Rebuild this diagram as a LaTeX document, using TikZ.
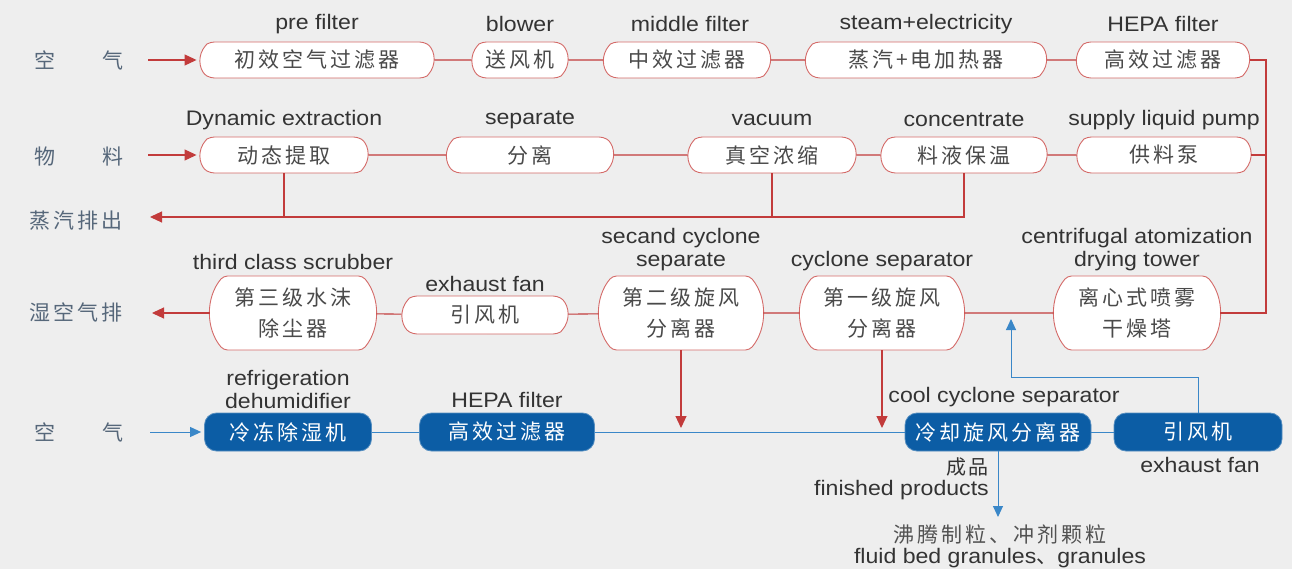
\documentclass[tikz,border=0pt]{standalone}
\usepackage{fontspec}
\setmainfont{Liberation Sans}[FakeStretch=1.1]
\newfontfamily\cjk{Noto Sans CJK SC}[LetterSpace=14]
\newfontfamily\cjkplain{Noto Sans CJK SC}
\usetikzlibrary{arrows.meta,shapes.misc}
\definecolor{bg}{HTML}{EEEEEE}
\definecolor{rline}{HTML}{C23B3B}
\definecolor{rbord}{HTML}{D46A68}
\definecolor{bfill}{HTML}{0C5DA5}
\definecolor{bline}{HTML}{3A87C8}
\definecolor{lbl}{HTML}{56677A}
\definecolor{ctext}{HTML}{4A4A4A}
\definecolor{etext}{HTML}{333333}
\begin{document}
\begin{tikzpicture}[x=1pt,y=-1pt,
  rbox/.style={rounded rectangle, rounded rectangle arc length=120, rounded corners=4pt, draw=rbord, line width=0.9pt, fill=white,
    minimum height=36pt, inner sep=0pt, font=\cjk\fontsize{21}{31}\selectfont, text=ctext, align=center},
  tbox/.style={rbox, rounded rectangle arc length=80, minimum height=74pt},
  bbox/.style={rounded corners=12pt, fill=bfill, draw=bfill!70!white, line width=0.8pt, text=white,
    minimum height=38pt, inner sep=0pt, font=\cjk\fontsize{21}{26}\selectfont},
  en/.style={font=\fontsize{21}{23}\selectfont, text=etext, align=center, inner sep=0pt},
  side/.style={font=\cjk\fontsize{21}{24}\selectfont, text=lbl, inner sep=0pt},
  rl/.style={draw=rline, line width=1.1pt},
  rar/.style={rl, -{Triangle[length=12pt,width=11pt]}},
  bl/.style={draw=bline, line width=1pt},
  bar/.style={bl, -{Triangle[length=11pt,width=10pt]}},
]
\fill[bg] (0,0) rectangle (1292,569);
\useasboundingbox (0,0) rectangle (1292,569);

% left labels
\node[side] (L1) at (79,60) {空\hspace{48pt}气};
\node[side] (L2) at (79,157) {物\hspace{48pt}料};
\node[side] (L3) at (76,221) {蒸汽排出};
\node[side] (L4) at (76,312) {湿空气排};
\node[side] (L5) at (79,432) {空\hspace{48pt}气};

% row 1
\node[rbox, minimum width=234pt] (a1) at (317,60) {初效空气过滤器};
\node[rbox, minimum width=96pt]  (a2) at (520,60) {送风机};
\node[rbox, minimum width=167pt] (a3) at (687,60) {中效过滤器};
\node[rbox, minimum width=241pt] (a4) at (926,60) {蒸汽+电加热器};
\node[rbox, minimum width=173pt] (a5) at (1163,60) {高效过滤器};
\node[en] (ta1) at (317,24) {pre filter};
\node[en] (ta2) at (520,24) {blower};
\node[en] (ta3) at (690,24) {middle filter};
\node[en] (ta4) at (926,24) {steam+electricity};
\node[en] (ta5) at (1163,24) {HEPA filter};

% row 2
\node[rbox, minimum width=168pt] (b1) at (284,155) {动态提取};
\node[rbox, minimum width=167pt] (b2) at (530,155) {分离};
\node[rbox, minimum width=168pt] (b3) at (772,155) {真空浓缩};
\node[rbox, minimum width=166pt] (b4) at (964,155) {料液保温};
\node[rbox, minimum width=174pt] (b5) at (1164,155) {供料泵};
\node[en] (tb1) at (284,120) {Dynamic extraction};
\node[en] (tb2) at (530,120) {separate};
\node[en] (tb3) at (772,120) {vacuum};
\node[en] (tb4) at (964,120) {concentrate};
\node[en] (tb5) at (1164,120) {supply liquid pump};

% row 3
\node[tbox, minimum width=166pt] (c1) at (293,313) {第三级水沫\\除尘器};
\node[rbox, minimum width=166pt, minimum height=38pt] (c2) at (485,315) {引风机};
\node[tbox, minimum width=164pt] (c3) at (681,313) {第二级旋风\\分离器};
\node[tbox, minimum width=164pt] (c4) at (882,313) {第一级旋风\\分离器};
\node[tbox, minimum width=166pt] (c5) at (1137,313) {离心式喷雾\\干燥塔};
\node[en] (tc1) at (293,262) {third class scrubber};
\node[en] (tc2) at (485,284) {exhaust fan};
\node[en] (tc3) at (681,250) {secand cyclone\\separate};
\node[en] (tc4) at (882,261) {cyclone separator};
\node[en] (tc5) at (1137,250) {centrifugal atomization\\drying tower};

% row 4
\node[bbox, minimum width=167pt] (d1) at (288,432) {冷冻除湿机};
\node[bbox, minimum width=175pt] (d2) at (507,432) {高效过滤器};
\node[bbox, minimum width=186pt] (d3) at (998,432) {冷却旋风分离器};
\node[bbox, minimum width=168pt] (d4) at (1198,432) {引风机};
\node[en] (td1) at (288,389) {refrigeration\\dehumidifier};
\node[en] (td2) at (507,400) {HEPA filter};
\node[en] (td3) at (1004,397) {cool cyclone separator};
\node[en] (td4) at (1200,465) {exhaust fan};
\node[side, text=etext, anchor=east, font=\cjk\fontsize{20}{22}\selectfont] (fp1) at (989,467) {成品};
\node[en, anchor=east] (fp2) at (989,490) {finished products};
\node[side, text=etext!85!white] (g1) at (1000,535) {沸腾制粒、冲剂颗粒};
\node[en] (g2) at (1000,558) {fluid bed granules{\cjkplain 、}granules};

% coordinates for free ends
\coordinate (s1) at (148,60);
\coordinate (s2) at (148,155);
\coordinate (st) at (150,217);
\coordinate (wet) at (152,313);
\coordinate (s5) at (150,432);
\coordinate (rj1) at (1266,60);
\coordinate (dtip) at (0,428);
\coordinate (bt) at (1011,377);
\coordinate (bup) at (1011,319);
\coordinate (fp) at (998,517);

% red connectors
\draw[rar, shorten >=3pt] (s1) -- (a1.west);
\draw[rl] (a1) -- (a2);
\draw[rl] (a2) -- (a3);
\draw[rl] (a3) -- (a4);
\draw[rl] (a4) -- (a5);
\draw[rl] (a5.east) -- (rj1) |- (c5.east);
\draw[rar, shorten >=3pt] (s2) -- (b1.west);
\draw[rl] (b1) -- (b2);
\draw[rl] (b2) -- (b3);
\draw[rl] (b3) -- (b4);
\draw[rl] (b4) -- (b5);
\draw[rl] (b5.east) -- (b5.east -| rj1);
\draw[rar] (b4.south) |- (st);
\draw[rl] (b1.south) -- (b1.south |- st);
\draw[rl] (b3.south) -- (b3.south |- st);
\draw[rar] (c1.west) -- (wet);
\draw[rl] (c1) -- (c2);
\draw[rl] (c2) -- (c3);
\draw[rl] (c3) -- (c4);
\draw[rl] (c4) -- (c5);
\draw[rar] (c3.south) -- (c3.south |- dtip);
\draw[rar] (c4.south) -- (c4.south |- dtip);

% blue connectors
\draw[bar, shorten >=3pt] (s5) -- (d1.west);
\draw[bl] (d1) -- (d2);
\draw[bl] (d2) -- (d3);
\draw[bl] (d3) -- (d4);
\draw[bar] (d4.north) |- (bt) -- (bup);
\draw[bar] (d3.south) -- (fp);
\end{tikzpicture}
\end{document}
